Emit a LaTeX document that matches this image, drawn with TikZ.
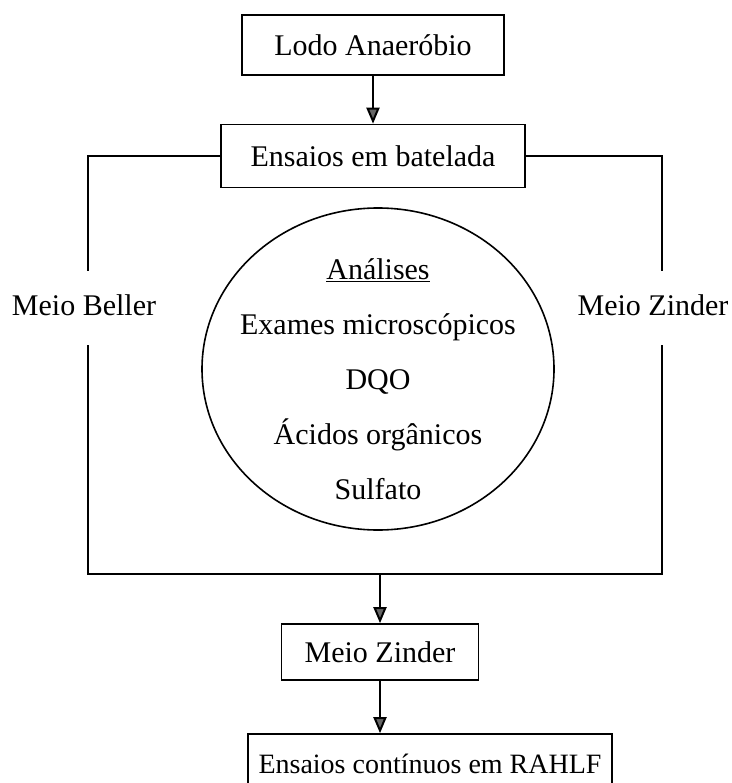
\documentclass[tikz,border=0pt]{standalone}
\usepackage{fontspec}
\setmainfont{Liberation Serif}
\usepackage{tikz}
\usetikzlibrary{arrows.meta,shapes.geometric,calc}

\begin{document}
\begin{tikzpicture}[x=1pt, y=-1pt,
    box/.style={draw, line width=1.6pt, inner sep=0pt, font=\fontsize{30}{36}\selectfont},
    arr/.style={line width=2pt, -{Triangle[length=16pt, width=13pt, fill=black!60]}},
    lbl/.style={font=\fontsize{30}{36}\selectfont, inner sep=0pt}]
  \useasboundingbox (0,0) rectangle (731,783);
  % Boxes
  \node[box, minimum width=262pt, minimum height=60pt] (lodo) at (373,45) {Lodo Anaeróbio};
  \node[box, minimum width=304pt, minimum height=63pt] (batelada) at (373,156) {Ensaios em batelada};
  \node[box, minimum width=197pt, minimum height=56pt] (zinder) at (380,652) {Meio Zinder};
  \node[box, minimum width=364pt, minimum height=60pt, font=\fontsize{28}{34}\selectfont] (rahlf) at (430,764) {Ensaios contínuos em RAHLF};
  % Analyses
  \node[draw, ellipse, line width=1.6pt, minimum width=352pt, minimum height=322pt] (analises) at (378,369) {};
  \node[lbl, align=center, font=\fontsize{30}{55}\selectfont] (lista) at (378,379)
    {\underline{Análises}\\Exames microscópicos\\DQO\\Ácidos orgânicos\\Sulfato};
  % Media labels
  \node[lbl, anchor=base] (beller) at (84,315) {Meio Beller};
  \node[lbl, anchor=base] (zinderlbl) at (653,315) {Meio Zinder};
  % Line ends
  \coordinate (lt) at (88,271);
  \coordinate (lb) at (88,345);
  \coordinate (rt) at (662,271);
  \coordinate (rb) at (662,345);
  \coordinate (bl) at (88,574);
  \coordinate (br) at (662,574);
  % Connectors
  \draw[arr] (lodo) -- (batelada);
  \draw[line width=1.6pt] (batelada.west) -| (lt);
  \draw[line width=1.6pt] (batelada.east) -| (rt);
  \draw[line width=1.6pt] (lb) -- (bl) -- (br) -- (rb);
  \draw[arr] (zinder.north |- bl) -- (zinder.north);
  \draw[arr] (zinder.south) -- (zinder.south |- rahlf.north);
\end{tikzpicture}
\end{document}
